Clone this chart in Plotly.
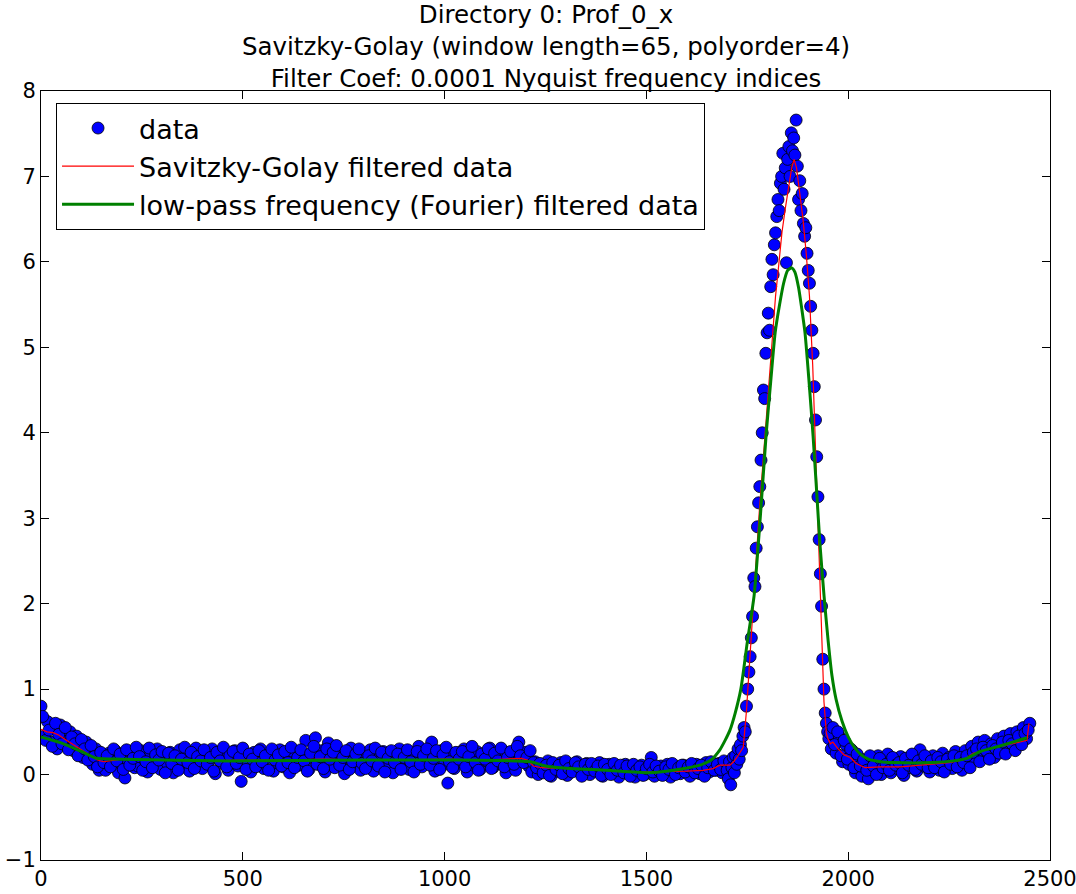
import plotly.graph_objects as go

# ---------------- data ----------------
title_lines = [
    "Directory 0: Prof_0_x",
    "Savitzky-Golay (window length=65, polyorder=4)",
    "Filter Coef: 0.0001 Nyquist frequency indices",
]

# raw data, x = 0..1696 step 8
base_y = [
    0.80, 0.45, 0.62, 0.38, 0.55, 0.30, 0.58, 0.42, 0.35, 0.50,
    0.28, 0.45, 0.33, 0.20, 0.38, 0.25, 0.12, 0.30, 0.05, 0.22,
    0.05, 0.25, 0.12, 0.28, 0.02, 0.20, -0.04, 0.15, 0.27, 0.08,
    0.10, 0.28, 0.18, 0.03, 0.25, 0.12, 0.30, 0.06, 0.20, 0.14,
    0.26, 0.02, 0.17, 0.29, 0.09, 0.22, 0.04, 0.19, 0.31, 0.11,
    0.07, 0.24, 0.15, 0.30, 0.01, 0.21, 0.13, 0.27, 0.05, 0.18,
    0.28, 0.10, -0.08, 0.22, 0.16, 0.03, 0.26, 0.12, 0.30, 0.07,
    0.19, 0.25, 0.04, 0.14, 0.29, 0.09, 0.21, 0.02, 0.27, 0.16,
    0.11, 0.24, 0.40, 0.06, 0.20, 0.43, 0.13, 0.28, 0.03, 0.37,
    0.18, 0.08, 0.26, 0.14, 0.01, 0.23, 0.31, 0.10, 0.17, 0.05,
    0.25, 0.12, 0.29, 0.04, 0.20, 0.15, 0.27, 0.08, 0.22, 0.02,
    0.18, 0.30, 0.11, 0.24, 0.06, 0.21, 0.14, 0.33, 0.09, 0.19,
    0.26, 0.38, 0.04, 0.17, 0.28, 0.12, -0.10, 0.22, 0.07, 0.25,
    0.15, 0.30, 0.03, 0.20, 0.11, 0.27, 0.06, 0.23, 0.16, 0.31,
    0.08, 0.21, 0.13, 0.28, 0.02, 0.24, 0.17, 0.05, 0.38, 0.19,
    0.26, 0.10, 0.03, 0.15, 0.00, 0.12, 0.06, 0.16, -0.02, 0.10,
    0.04, 0.14, 0.08, -0.01, 0.12, 0.05, 0.15, 0.02, 0.09, 0.13,
    0.00, 0.11, 0.05, 0.14, -0.02, 0.08, 0.12, 0.03, 0.10, -0.03,
    0.07, 0.12, 0.01, 0.09, -0.03, 0.06, 0.11, 0.00, 0.08, 0.20,
    -0.02, 0.07, 0.10, 0.02, 0.12, -0.03, 0.05, 0.09, 0.01, 0.11,
    0.04, -0.02, 0.08, 0.12, 0.01, 0.06, 0.14, 0.03, 0.10, 0.05,
    0.13, 0.02, 0.09,
]

# raw data, x = 4..1692 step 8 (interleaved samples)
base2_y = [
    0.68, 0.40, 0.52, 0.33, 0.60, 0.47, 0.36, 0.55, 0.29, 0.44,
    0.36, 0.22, 0.41, 0.30, 0.17, 0.34, 0.21, 0.09, 0.26, 0.14,
    0.22, 0.09, 0.30, 0.16, 0.24, 0.06, 0.29, 0.11, 0.19, 0.32,
    0.21, 0.05, 0.15, 0.31, 0.08, 0.23, 0.17, 0.27, 0.02, 0.25,
    0.13, 0.22, 0.05, 0.18, 0.32, 0.14, 0.26, 0.07, 0.21, 0.16,
    0.29, 0.12, 0.20, 0.04, 0.26, 0.16, 0.32, 0.09, 0.22, 0.27,
    0.13, 0.20, 0.31, 0.06, 0.24, 0.18, 0.09, 0.28, 0.15, 0.22,
    0.05, 0.30, 0.17, 0.23, 0.10, 0.27, 0.14, 0.32, 0.08, 0.20,
    0.29, 0.16, 0.04, 0.25, 0.33, 0.12, 0.21, 0.07, 0.30, 0.18,
    0.26, 0.34, 0.11, 0.20, 0.28, 0.06, 0.15, 0.24, 0.30, 0.13,
    0.07, 0.22, 0.16, 0.31, 0.10, 0.26, 0.03, 0.19, 0.28, 0.14,
    0.24, 0.06, 0.20, 0.29, 0.15, 0.03, 0.27, 0.12, 0.22, 0.30,
    0.11, 0.19, 0.28, 0.06, 0.23, 0.32, 0.15, 0.08, 0.26, 0.18,
    0.27, 0.09, 0.21, 0.33, 0.14, 0.05, 0.24, 0.18, 0.30, 0.07,
    0.25, 0.16, 0.31, 0.09, 0.20, 0.27, 0.12, 0.33, 0.22, 0.14,
    0.20, 0.28, 0.14, 0.08, 0.13, 0.02, 0.11, -0.01, 0.14, 0.06,
    0.11, 0.01, 0.16, 0.07, 0.03, 0.14, 0.09, -0.02, 0.12, 0.06,
    0.13, 0.04, 0.10, -0.01, 0.12, 0.06, 0.00, 0.13, 0.05, 0.11,
    0.02, 0.10, -0.02, 0.12, 0.05, 0.09, -0.01, 0.07, 0.12, 0.03,
    0.10, 0.04, -0.01, 0.09, 0.06, 0.13, 0.00, 0.08, 0.11, 0.03,
    0.09, 0.13, 0.02, 0.07, 0.11, -0.02, 0.08, 0.15, 0.05, 0.12,
    0.06, 0.16,
]

# raw data in the peak, x = 1700..1958 step 3
peak_y = [
    0.05, -0.05, 0.15, -0.12, 0.08, 0.20, 0.02, 0.22, 0.12, 0.30,
    0.18, 0.35, 0.28, 0.45, 0.55, 0.50, 0.80, 1.00, 1.20, 1.38,
    1.60, 1.85, 2.30, 2.20, 2.65, 2.90, 3.18, 3.37, 3.68, 4.00,
    4.50, 4.40, 4.93, 5.17, 5.40, 5.20, 5.71, 6.03, 5.85, 6.20,
    6.34, 6.53, 6.73, 6.60, 6.92, 7.00, 7.27, 6.85, 7.10, 5.99,
    7.20, 7.35, 7.00, 7.51, 7.30, 7.45, 7.25, 7.66, 7.12, 6.73,
    6.95, 6.60, 6.80, 6.45, 6.30, 6.40, 6.10, 5.90, 5.75, 5.48,
    5.20, 4.93, 4.54, 4.15, 3.72, 3.25, 2.75, 2.35, 1.97, 1.35,
    1.00, 0.72, 0.60, 0.50, 0.42, 0.48, 0.30,
]

# raw data after the peak, x = 1962..2450 step 8
tail_y = [
    0.55, 0.25, 0.45, 0.15, 0.35, 0.12, 0.28, 0.02, 0.20, -0.02,
    0.15, -0.05, 0.18, 0.03, 0.22, 0.00, 0.14, 0.24, 0.02, 0.17,
    0.07, 0.21, -0.01, 0.15, 0.08, 0.20, 0.04, 0.29, 0.10, 0.18,
    0.03, 0.22, 0.12, 0.05, 0.25, 0.10, 0.20, 0.07, 0.27, 0.13,
    0.05, 0.28, 0.15, 0.33, 0.18, 0.38, 0.22, 0.40, 0.25, 0.36,
    0.20, 0.42, 0.28, 0.45, 0.30, 0.48, 0.33, 0.50, 0.38, 0.55,
    0.42, 0.60,
]

# raw data after the peak, x = 1966..2446 step 8 (interleaved samples)
tail2_y = [
    0.35, 0.50, 0.22, 0.40, 0.18, 0.30, 0.08, 0.24, 0.10, 0.17,
    0.05, 0.22, 0.10, 0.00, 0.19, 0.08, 0.12, 0.05, 0.20, 0.11,
    0.14, 0.02, 0.19, 0.11, 0.24, 0.06, 0.16, 0.12, 0.22, 0.08,
    0.16, 0.08, 0.20, 0.15, 0.03, 0.18, 0.12, 0.22, 0.09, 0.20,
    0.14, 0.22, 0.08, 0.26, 0.30, 0.15, 0.32, 0.28, 0.18, 0.34,
    0.30, 0.25, 0.38, 0.24, 0.40, 0.36, 0.28, 0.45, 0.35, 0.48,
    0.52,
]

# Savitzky-Golay filtered curve
sg_x = [0, 15, 30, 45, 60, 80, 100, 120, 140, 155, 175, 200, 300, 400, 500,
        600, 700, 800, 900, 1000, 1100, 1190, 1205, 1220, 1240, 1300, 1400,
        1500, 1600, 1640, 1665, 1682, 1707, 1716, 1724, 1732, 1740, 1748,
        1756, 1764, 1772, 1780, 1788, 1796, 1804, 1812, 1820, 1828, 1836,
        1844, 1852, 1860, 1866, 1872, 1880, 1888, 1896, 1904, 1912, 1920,
        1928, 1934, 1940, 1946, 1950, 1956, 1962, 1975, 1990, 2005, 2020,
        2042, 2080, 2130, 2200, 2250, 2285, 2310, 2350, 2400, 2443, 2448]
sg_y = [0.53, 0.50, 0.49, 0.46, 0.41, 0.35, 0.29, 0.23, 0.17, 0.15, 0.16,
        0.18, 0.17, 0.16, 0.17, 0.17, 0.18, 0.17, 0.17, 0.18, 0.17, 0.19,
        0.17, 0.10, 0.08, 0.07, 0.05, 0.03, 0.04, 0.05, 0.07, 0.11, 0.11,
        0.15, 0.20, 0.26, 0.32, 0.75, 1.35, 1.95, 2.50, 3.10, 3.60, 4.10,
        4.65, 5.15, 5.60, 5.97, 6.35, 6.62, 6.88, 7.10, 7.20, 7.10, 6.80,
        6.50, 6.10, 5.60, 4.80, 3.70, 2.60, 1.90, 0.85, 0.48, 0.42, 0.36,
        0.38, 0.30, 0.23, 0.20, 0.13, 0.08, 0.09, 0.09, 0.12, 0.14, 0.17,
        0.25, 0.30, 0.35, 0.40, 0.60]

# low-pass (Fourier) filtered curve
lp_x = [0, 50, 100, 138, 200, 470, 800, 1000, 1212, 1250, 1286, 1400, 1509,
        1567, 1633, 1660, 1682, 1695, 1707, 1720, 1734, 1750, 1767, 1782,
        1797, 1808, 1819, 1830, 1840, 1850, 1860, 1868, 1877, 1885, 1893,
        1903, 1913, 1922, 1930, 1940, 1950, 1960, 1970, 1985, 2000, 2015,
        2030, 2050, 2080, 2111, 2211, 2260, 2294, 2327, 2380, 2443]
lp_y = [0.44, 0.37, 0.27, 0.19, 0.18, 0.16, 0.17, 0.17, 0.15, 0.10, 0.08,
        0.05, 0.02, 0.05, 0.11, 0.17, 0.29, 0.40, 0.52, 0.72, 1.00, 1.55,
        2.10, 3.00, 4.00, 4.60, 5.17, 5.50, 5.75, 5.90, 5.93, 5.88, 5.70,
        5.45, 5.17, 4.60, 3.96, 3.30, 2.70, 2.10, 1.58, 1.15, 0.88, 0.62,
        0.44, 0.32, 0.24, 0.18, 0.15, 0.14, 0.14, 0.16, 0.19, 0.27, 0.34,
        0.43]

x_ticks = [0, 500, 1000, 1500, 2000, 2500]
y_ticks = [-1, 0, 1, 2, 3, 4, 5, 6, 7, 8]

# ---------------- figure ----------------
data_x = (list(range(0, 1697, 8)) + list(range(4, 1693, 8))
          + list(range(1700, 1959, 3))
          + list(range(1962, 2451, 8)) + list(range(1966, 2447, 8)))
data_y = base_y + base2_y + peak_y + tail_y + tail2_y

FONT = "DejaVu Sans"

fig = go.Figure()
fig.add_trace(go.Scatter(
    x=data_x, y=data_y, mode="markers", name="data", legendgroup="a",
    marker=dict(color="#0000FF", size=12, line=dict(color="black", width=0.8)),
))
fig.add_trace(go.Scatter(
    x=sg_x, y=sg_y, mode="lines", name="Savitzky-Golay filtered data",
    legendgroup="b", line=dict(color="#FF0000", width=1.2),
))
fig.add_trace(go.Scatter(
    x=lp_x, y=lp_y, mode="lines", name="low-pass frequency (Fourier) filtered data",
    legendgroup="c", line=dict(color="#008000", width=3, shape="spline", smoothing=0.6),
))

fig.add_annotation(text="<br>".join(title_lines), xref="paper", yref="paper",
                   x=0.5, y=1.0585, xanchor="center", yanchor="middle",
                   showarrow=False, align="center",
                   font=dict(family=FONT, size=24.5, color="black"))

axis_common = dict(
    showline=True, linecolor="black", linewidth=1, mirror="ticks",
    ticks="inside", ticklen=8, tickcolor="black", tickwidth=1,
    showgrid=False, zeroline=False, automargin=False,
    ticklabeloverflow="allow",
    tickfont=dict(family=FONT, size=21, color="black"),
)
fig.update_xaxes(range=[0, 2500], tickvals=x_ticks, **axis_common)
fig.update_yaxes(range=[-1, 8], tickvals=y_ticks, **axis_common)

fig.update_layout(
    width=1076, height=894,
    margin=dict(l=41, r=26, t=91, b=34),
    paper_bgcolor="white", plot_bgcolor="white",
    font=dict(family=FONT, size=21, color="black"),
    showlegend=True,
    legend=dict(
        x=0.0149, y=0.9844, xanchor="left", yanchor="top",
        bgcolor="white", bordercolor="black", borderwidth=1,
        font=dict(family=FONT, size=27, color="black"),
        traceorder="grouped", tracegroupgap=0, itemwidth=72,
    ),
)

# the page's default 8px body margin would push the 1076x894 figure off-window
fig.write_html("out.html", config={"displayModeBar": False},
               post_script="document.body.style.margin='0';")
